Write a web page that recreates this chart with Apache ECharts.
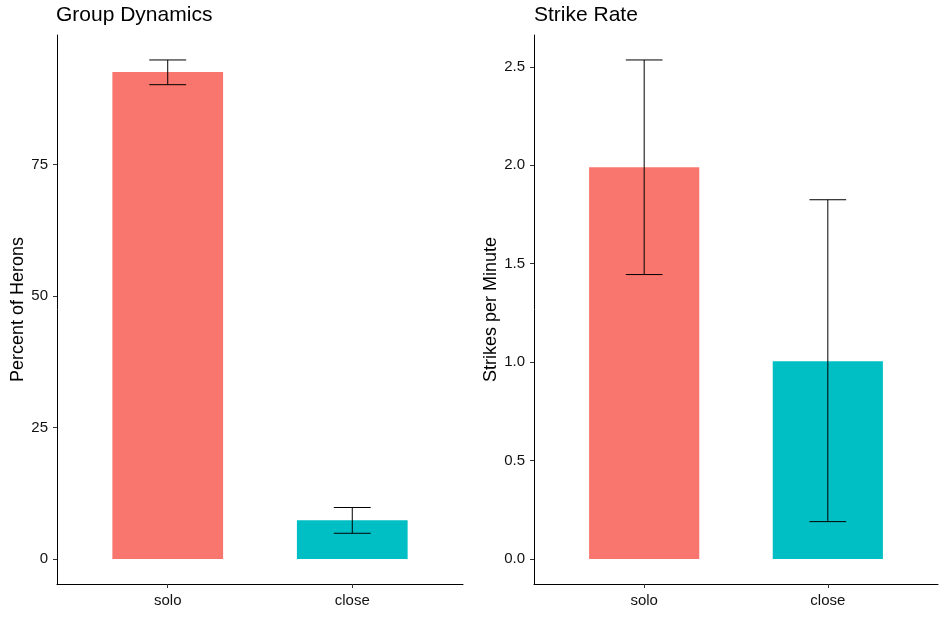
<!DOCTYPE html>
<html>
<head>
<meta charset="utf-8">
<script src="https://cdn.jsdelivr.net/npm/echarts@6/dist/echarts.min.js"></script>
<style>
html,body{margin:0;padding:0;background:#fff;}
#main{width:947px;height:617px;}
</style>
</head>
<body>
<div id="main"></div>
<script>
const categories = ['solo', 'close'];
const barColors = ['#F8766D', '#00BFC4'];

const groupMean = [92.6, 7.4];
const groupLower = [90.2, 4.9];
const groupUpper = [94.9, 9.8];
const groupTicks = [0, 25, 50, 75];

const strikeMean = [1.99, 1.005];
const strikeLower = [1.445, 0.19];
const strikeUpper = [2.535, 1.825];
const strikeTicks = [0, 0.5, 1.0, 1.5, 2.0, 2.5];

const FONT = 'Liberation Sans, Arial, sans-serif';

function yRange(lower, upper) {
  const lo = Math.min(0, ...lower), hi = Math.max(0, ...upper);
  const span = hi - lo;
  return [lo - 0.05 * span, hi + 0.05 * span];
}

function xAxisDef(idx) {
  const pos = categories.map((c, i) => i + 1);
  return {
    type: 'value', gridIndex: idx, min: 0.4, max: categories.length + 0.6,
    splitLine: {show: false},
    axisLine: {show: true, onZero: false, lineStyle: {color: '#000', width: 1}},
    axisTick: {show: true, length: 4, lineStyle: {color: '#333'}, customValues: pos},
    axisLabel: {color: '#111', fontSize: 15, fontFamily: FONT, margin: 9,
      customValues: pos, formatter: v => categories[Math.round(v) - 1] || ''}
  };
}

function yAxisDef(idx, lower, upper, ticks, name, gap, decimals) {
  const r = yRange(lower, upper);
  return {
    type: 'value', gridIndex: idx, min: r[0], max: r[1],
    name: name, nameLocation: 'middle', nameGap: gap, nameRotate: 90,
    nameTextStyle: {color: '#000', fontSize: 18, fontFamily: FONT},
    splitLine: {show: false},
    axisLine: {show: true, lineStyle: {color: '#000', width: 1}},
    axisTick: {show: true, length: 4, lineStyle: {color: '#333'}, customValues: ticks},
    axisLabel: {color: '#111', fontSize: 15, fontFamily: FONT, margin: 9,
      customValues: ticks, formatter: v => decimals ? v.toFixed(decimals) : String(Math.round(v))}
  };
}

function barSeries(idx, mean) {
  return {
    type: 'custom', xAxisIndex: idx, yAxisIndex: idx,
    data: mean.map((m, i) => [i + 1, m, i]),
    renderItem: function (params, api) {
      const x = api.value(0), y = api.value(1), ci = api.value(2);
      const p0 = api.coord([x - 0.3, 0]);
      const p1 = api.coord([x + 0.3, y]);
      return {type: 'rect',
        shape: {x: p0[0], y: p1[1], width: p1[0] - p0[0], height: p0[1] - p1[1]},
        style: {fill: barColors[ci]}};
    },
    silent: true, z: 2
  };
}

function errSeries(idx, lower, upper) {
  return {
    type: 'custom', xAxisIndex: idx, yAxisIndex: idx,
    data: lower.map((l, i) => [i + 1, l, upper[i]]),
    renderItem: function (params, api) {
      const x = api.value(0);
      const lo = api.coord([x, api.value(1)]);
      const hi = api.coord([x, api.value(2)]);
      const a = api.coord([x - 0.1, 0])[0], b = api.coord([x + 0.1, 0])[0];
      const st = {stroke: '#000', lineWidth: 1};
      return {type: 'group', children: [
        {type: 'line', shape: {x1: lo[0], y1: lo[1], x2: hi[0], y2: hi[1]}, style: st},
        {type: 'line', shape: {x1: a, y1: lo[1], x2: b, y2: lo[1]}, style: st},
        {type: 'line', shape: {x1: a, y1: hi[1], x2: b, y2: hi[1]}, style: st}
      ]};
    },
    silent: true, z: 3
  };
}

const chart = echarts.init(document.getElementById('main'), null, {renderer: 'canvas'});
chart.setOption({
  backgroundColor: '#fff',
  animation: false,
  title: [
    {text: 'Group Dynamics', left: 51, top: 0, textStyle: {color: '#000', fontSize: 21, fontWeight: 'normal', fontFamily: FONT}},
    {text: 'Strike Rate', left: 529, top: 0, textStyle: {color: '#000', fontSize: 21, fontWeight: 'normal', fontFamily: FONT}}
  ],
  grid: [
    {left: 57, right: 484, top: 35, bottom: 33},
    {left: 534, right: 9, top: 35, bottom: 33}
  ],
  xAxis: [xAxisDef(0), xAxisDef(1)],
  yAxis: [
    yAxisDef(0, groupLower, groupUpper, groupTicks, 'Percent of Herons', 30, 0),
    yAxisDef(1, strikeLower, strikeUpper, strikeTicks, 'Strikes per Minute', 34, 1)
  ],
  series: [
    barSeries(0, groupMean), errSeries(0, groupLower, groupUpper),
    barSeries(1, strikeMean), errSeries(1, strikeLower, strikeUpper)
  ]
});
</script>
</body>
</html>
